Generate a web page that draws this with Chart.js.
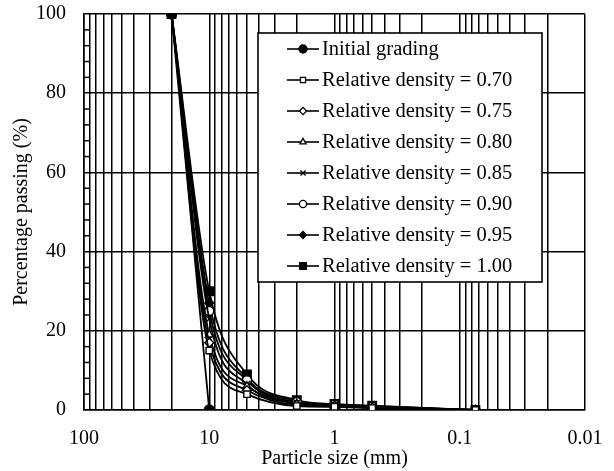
<!DOCTYPE html>
<html>
<head>
<meta charset="utf-8">
<script src="https://cdn.jsdelivr.net/npm/chart.js@4.4.1/dist/chart.umd.min.js"></script>
<style>
  html, body { margin: 0; padding: 0; background: #fff; }
  #wrap { width: 614px; height: 471px; position: relative; }
</style>
</head>
<body>
<div id="wrap"><canvas id="psd-chart"></canvas></div>
<script>
/* Particle size distribution chart */
const sizes = [20, 10, 5, 2, 1, 0.5, 0.075];
const initialGrading = [100, 0, null, null, null, null, null];
const rd070 = [100, 15, 4, 1.0, 0.8, 0.5, 0];
const rd075 = [100, 17, 5, 1.3, 1.0, 0.6, 0];
const rd080 = [100, 19, 6, 1.6, 1.1, 0.7, 0];
const rd085 = [100, 23, 6.5, 1.8, 1.2, 0.8, 0];
const rd090 = [100, 25, 7.5, 2.0, 1.3, 0.9, 0];
const rd095 = [100, 27, 8, 2.3, 1.4, 1.0, 0];
const rd100 = [100, 30, 9, 2.5, 1.5, 1.1, 0];

const xMajor = [100, 10, 1, 0.1, 0.01];
const yTicks = [0, 20, 40, 60, 80, 100];

const FONT = "'Liberation Serif', 'Times New Roman', serif";

function pts(vals) {
  return sizes.map((s, i) => ({ x: s, y: vals[i] })).filter(p => p.y !== null);
}

function series(label, vals, style, fill, radius) {
  return {
    label,
    data: pts(vals),
    borderColor: '#000',
    borderWidth: 1.8,
    pointStyle: style,
    pointRadius: radius,
    pointBackgroundColor: fill,
    pointBorderColor: '#000',
    pointBorderWidth: 1.4,
    cubicInterpolationMode: 'monotone',
    fill: false,
  };
}

const datasets = [
  series('Initial grading', initialGrading, 'circle', '#000', 5),
  series('Relative density = 0.70', rd070, 'rect', '#fff', 4.5),
  series('Relative density = 0.75', rd075, 'rectRot', '#fff', 4.5),
  series('Relative density = 0.80', rd080, 'triangle', '#fff', 4.5),
  series('Relative density = 0.85', rd085, 'crossRot', '#fff', 4.5),
  series('Relative density = 0.90', rd090, 'circle', '#fff', 4.5),
  series('Relative density = 0.95', rd095, 'rectRot', '#000', 4.5),
  series('Relative density = 1.00', rd100, 'rect', '#000', 6),
];

// small inside ticks on the y axis and the boxed legend inside the plot
const decor = {
  id: 'decor',
  afterDraw(chart) {
    const { ctx, chartArea: a, scales } = chart;
    ctx.save();
    ctx.strokeStyle = '#000';
    ctx.lineWidth = 1.5;
    for (let v = 4; v < 100; v += 4) {
      if (v % 20 === 0) continue;
      const y = scales.y.getPixelForValue(v);
      ctx.beginPath();
      ctx.moveTo(a.left, y);
      ctx.lineTo(a.left + 6, y);
      ctx.stroke();
    }

    const box = { x: 258, y: 33, w: 284, h: 249 };
    ctx.fillStyle = '#fff';
    ctx.fillRect(box.x, box.y, box.w, box.h);
    ctx.lineWidth = 1.6;
    ctx.strokeRect(box.x, box.y, box.w, box.h);

    ctx.font = '20.5px ' + FONT;
    ctx.textBaseline = 'middle';
    ctx.textAlign = 'left';
    chart.data.datasets.forEach((ds, i) => {
      const cy = 49 + i * 31;
      ctx.strokeStyle = '#000';
      ctx.lineWidth = 1.6;
      ctx.beginPath();
      ctx.moveTo(287, cy);
      ctx.lineTo(319, cy);
      ctx.stroke();
      ctx.fillStyle = ds.pointBackgroundColor;
      ctx.lineWidth = 1.3;
      Chart.helpers.drawPoint(ctx, {
        pointStyle: ds.pointStyle,
        radius: ds.pointRadius * 0.8,
        rotation: 0,
        borderWidth: 1.3,
      }, 303, cy);
      ctx.fillStyle = '#000';
      ctx.fillText(ds.label, 322, cy + 1);
    });
    ctx.restore();
  }
};

new Chart(document.getElementById('psd-chart'), {
  type: 'line',
  data: { datasets },
  plugins: [decor],
  options: {
    responsive: true, maintainAspectRatio: false,
    animation: false,
    layout: { padding: { top: 14, right: 29, left: 10, bottom: 0 } },
    scales: {
      x: {
        type: 'logarithmic',
        reverse: true,
        min: 0.01, max: 100,
        afterBuildTicks(scale) {
          const t = [];
          xMajor.slice().reverse().forEach((p, i, arr) => {
            if (i === arr.length - 1) { t.push({ value: p }); return; }
            for (let k = 1; k < 10; k++) t.push({ value: +(p * k).toPrecision(3) });
          });
          scale.ticks = t;
        },
        afterFit(scale) {
          scale.height = 61;
          scale.paddingLeft = 0;
          scale.paddingRight = 0;
        },
        grid: { color: '#000', lineWidth: 1.5, drawTicks: false },
        border: { color: '#000', width: 1.6 },
        ticks: {
          autoSkip: false, maxRotation: 0, padding: 17,
          color: '#000', font: { family: FONT, size: 20 },
          callback: v => (xMajor.includes(v) ? String(v) : ''),
        },
        title: {
          display: true, text: 'Particle size (mm)', color: '#000',
          font: { family: FONT, size: 20 }, padding: { top: 0, bottom: 0 },
        },
      },
      y: {
        min: 0, max: 100,
        afterBuildTicks(scale) { scale.ticks = yTicks.map(v => ({ value: v })); },
        afterFit(scale) {
          scale.width = 74;
          scale.paddingTop = 0;
          scale.paddingBottom = 0;
        },
        grid: { color: '#000', lineWidth: 1.5, drawTicks: false },
        border: { color: '#000', width: 1.6 },
        ticks: {
          padding: 18, color: '#000', font: { family: FONT, size: 20 },
        },
        title: {
          display: true, text: 'Percentage passing (%)', color: '#000',
          font: { family: FONT, size: 20 }, padding: { top: 0, bottom: 4 },
        },
      },
    },
    plugins: { legend: { display: false }, tooltip: { enabled: false } },
  },
});
</script>
</body>
</html>
